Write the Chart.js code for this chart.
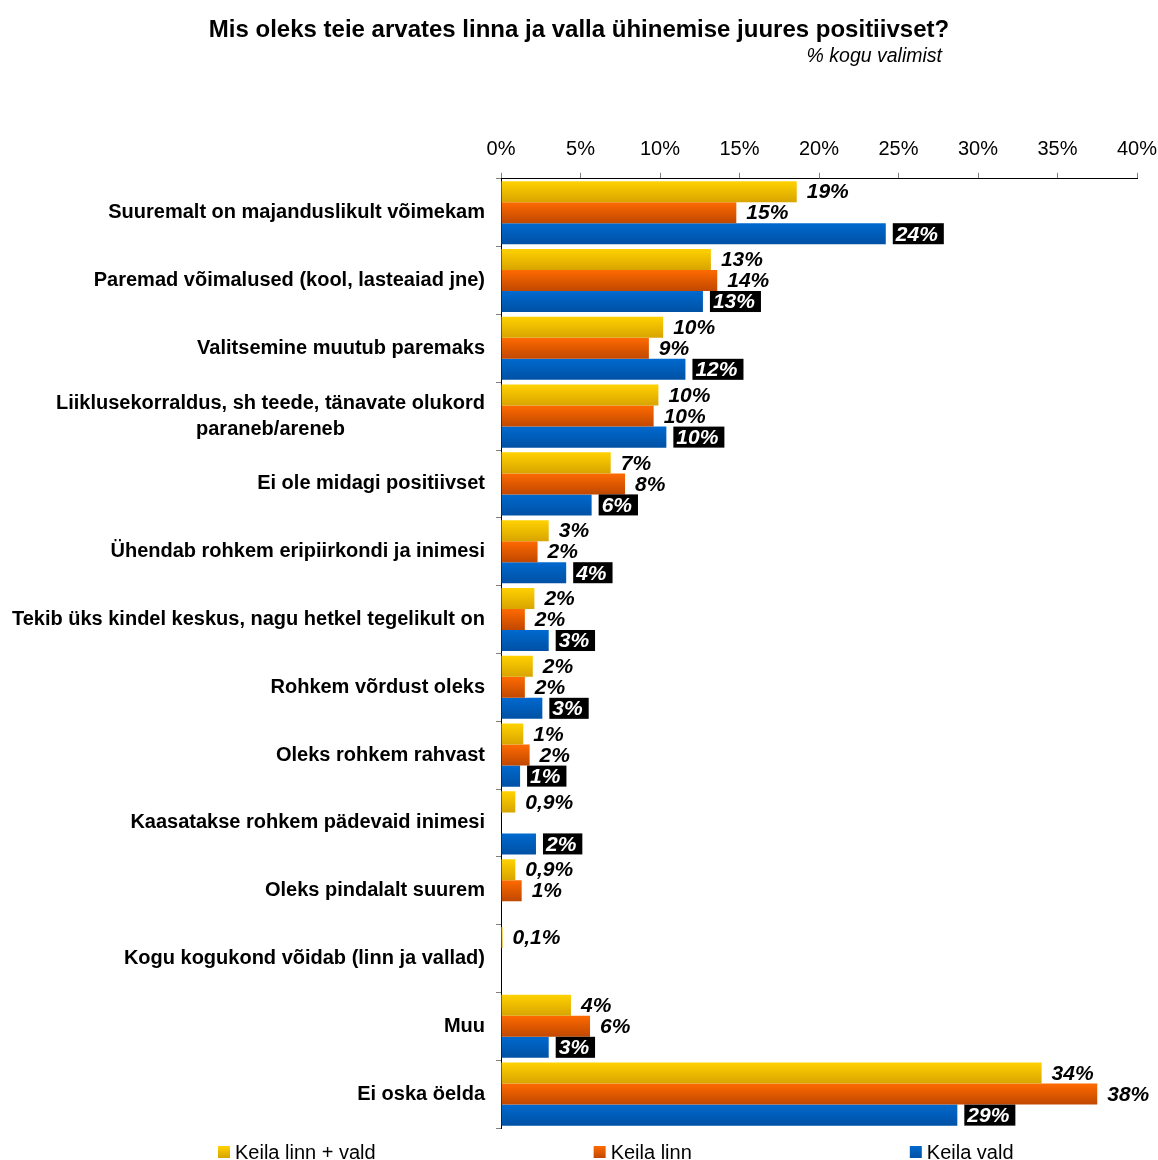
<!DOCTYPE html>
<html>
<head>
<meta charset="utf-8">
<script src="https://cdn.jsdelivr.net/npm/chart.js@4.4.1/dist/chart.umd.min.js"></script>
<style>
  html, body { margin: 0; padding: 0; background: #fff; }
  #wrap { width: 1158px; height: 1160px; }
</style>
</head>
<body>
<div id="wrap"><canvas id="chart" width="1158" height="1160"></canvas></div>
<script>
// survey answers, % of whole sample
const title = 'Mis oleks teie arvates linna ja valla ühinemise juures positiivset?';
const subtitle = '% kogu valimist';

const categories = [
  'Suuremalt on majanduslikult võimekam',
  'Paremad võimalused (kool, lasteaiad jne)',
  'Valitsemine muutub paremaks',
  ['Liiklusekorraldus, sh teede, tänavate olukord', 'paraneb/areneb'],
  'Ei ole midagi positiivset',
  'Ühendab rohkem eripiirkondi ja inimesi',
  'Tekib üks kindel keskus, nagu hetkel tegelikult on',
  'Rohkem võrdust oleks',
  'Oleks rohkem rahvast',
  'Kaasatakse rohkem pädevaid inimesi',
  'Oleks pindalalt suurem',
  'Kogu kogukond võidab (linn ja vallad)',
  'Muu',
  'Ei oska öelda',
];

const seriesNames = ['Keila linn + vald', 'Keila linn', 'Keila vald'];

const linnJaVald = [18.6, 13.2, 10.2, 9.9, 6.9, 3.0, 2.1, 2.0, 1.4, 0.9, 0.9, 0.1, 4.4, 34.0];
const linn       = [14.8, 13.6, 9.3, 9.6, 7.8, 2.3, 1.5, 1.5, 1.8, null, 1.3, null, 5.6, 37.5];
const vald       = [24.2, 12.7, 11.6, 10.4, 5.7, 4.1, 3.0, 2.6, 1.2, 2.2, null, null, 3.0, 28.7];

const xTicks = [0, 5, 10, 15, 20, 25, 30, 35, 40];

// ─── Styling ──────────────────────────────────────────────────────────────────

const FONT = '"Liberation Sans", Arial, sans-serif';
const CAT_PCT = 0.93;
const fills = [
  ['#ffd200', '#d8a400'],
  ['#ff6a00', '#c04800'],
  ['#0069cf', '#0051a4'],
];

function pct(v) {
  return v < 1 ? v.toFixed(1).replace('.', ',') + '%' : Math.round(v) + '%';
}

// vertical gradient per bar, placed from the category scale
function barFill(di) {
  const [top, bottom] = fills[di];
  return (c) => {
    const chart = c.chart;
    const ys = chart.scales.y;
    if (c.type !== 'data' || !ys || !chart.chartArea) return top;
    const band = (ys.bottom - ys.top) / categories.length;
    const thick = band * CAT_PCT / 3;
    const mid = ys.getPixelForValue(c.dataIndex) + (di - 1) * thick;
    const g = chart.ctx.createLinearGradient(0, mid - thick / 2, 0, mid + thick / 2);
    g.addColorStop(0, top);
    g.addColorStop(1, bottom);
    return g;
  };
}

// ─── Plugins ──────────────────────────────────────────────────────────────────

const valueLabels = {
  id: 'valueLabels',
  afterDatasetsDraw(chart) {
    const ctx = chart.ctx;
    ctx.save();
    ctx.font = 'italic bold 21px ' + FONT;
    ctx.textBaseline = 'middle';
    ctx.textAlign = 'left';
    chart.data.datasets.forEach((ds, di) => {
      const meta = chart.getDatasetMeta(di);
      meta.data.forEach((bar, i) => {
        const v = ds.data[i];
        if (v == null) return;
        const text = pct(v);
        const w = ctx.measureText(text).width;
        if (di === 2) {
          const h = bar.height;
          ctx.fillStyle = '#000';
          ctx.fillRect(bar.x + 7, bar.y - h / 2, w + 9, h);
          ctx.fillStyle = '#fff';
          ctx.fillText(text, bar.x + 10, bar.y + 1);
        } else {
          ctx.fillStyle = '#000';
          ctx.fillText(text, bar.x + 10, bar.y + 1);
        }
      });
    });
    ctx.restore();
  },
};

const extras = {
  id: 'extras',
  afterDraw(chart) {
    const ctx = chart.ctx;
    const ys = chart.scales.y;
    const area = chart.chartArea;
    ctx.save();

    // category labels: block right-aligned, lines centred inside it
    ctx.font = 'bold 20px ' + FONT;
    ctx.fillStyle = '#000';
    ctx.textAlign = 'center';
    ctx.textBaseline = 'middle';
    const right = area.left - 16;
    categories.forEach((lab, i) => {
      const lines = Array.isArray(lab) ? lab : [lab];
      const bw = Math.max(...lines.map(l => ctx.measureText(l).width));
      const cx = right - bw / 2;
      const cy = ys.getPixelForValue(i);
      lines.forEach((l, k) => ctx.fillText(l, cx, cy + (k - (lines.length - 1) / 2) * 26));
    });

    // subtitle
    ctx.font = 'italic 19.5px ' + FONT;
    ctx.textAlign = 'right';
    ctx.fillText(subtitle, 942, 57);

    // legend
    ctx.font = '20px ' + FONT;
    ctx.textAlign = 'left';
    const box = 12, textGap = 5, gap = 218;
    const widths = seriesNames.map(n => box + textGap + ctx.measureText(n).width);
    let x = 218;
    const ly = 1152;
    seriesNames.forEach((n, i) => {
      const g = ctx.createLinearGradient(0, ly - 6, 0, ly + 6);
      g.addColorStop(0, fills[i][0]);
      g.addColorStop(1, fills[i][1]);
      ctx.fillStyle = g;
      ctx.fillRect(x, ly - 6, box, box);
      ctx.fillStyle = '#000';
      ctx.fillText(n, x + box + textGap, ly + 1);
      x += widths[i] + gap;
    });

    ctx.restore();
  },
};

// ─── Chart ────────────────────────────────────────────────────────────────────

Chart.defaults.font.family = FONT;
Chart.defaults.color = '#000';

new Chart(document.getElementById('chart'), {
  type: 'bar',
  data: {
    labels: categories,
    datasets: [linnJaVald, linn, vald].map((data, di) => ({
      label: seriesNames[di],
      data,
      backgroundColor: barFill(di),
      borderWidth: 0,
      categoryPercentage: CAT_PCT,
      barPercentage: 1,
    })),
  },
  options: {
    indexAxis: 'y',
    responsive: false,
    animation: false,
    events: [],
    layout: { padding: { left: 0, right: 0, top: 0, bottom: 32 } },
    plugins: {
      legend: { display: false },
      tooltip: { enabled: false },
      title: {
        display: true,
        text: title,
        color: '#000',
        font: { size: 24, weight: 'bold', family: FONT },
        padding: { top: 16, bottom: 82 },
      },
    },
    scales: {
      x: {
        type: 'linear',
        position: 'top',
        min: xTicks[0],
        max: xTicks[xTicks.length - 1],
        afterBuildTicks: (s) => { s.ticks = xTicks.map(v => ({ value: v })); },
        afterFit: (s) => { s.paddingRight = 21; },
        ticks: {
          callback: (v) => v + '%',
          font: { size: 20 },
          color: '#000',
          padding: 11,
          maxRotation: 0,
        },
        grid: { drawOnChartArea: false, drawTicks: true, tickLength: 6, color: '#808080' },
        border: { color: '#000', width: 1 },
      },
      y: {
        type: 'category',
        offset: true,
        ticks: { display: false },
        grid: { offset: true, drawOnChartArea: false, drawTicks: true, tickLength: 5, color: '#808080' },
        border: { color: '#000', width: 1 },
        afterFit: (s) => { s.width = 501; },
      },
    },
  },
  plugins: [valueLabels, extras],
});
</script>
</body>
</html>
